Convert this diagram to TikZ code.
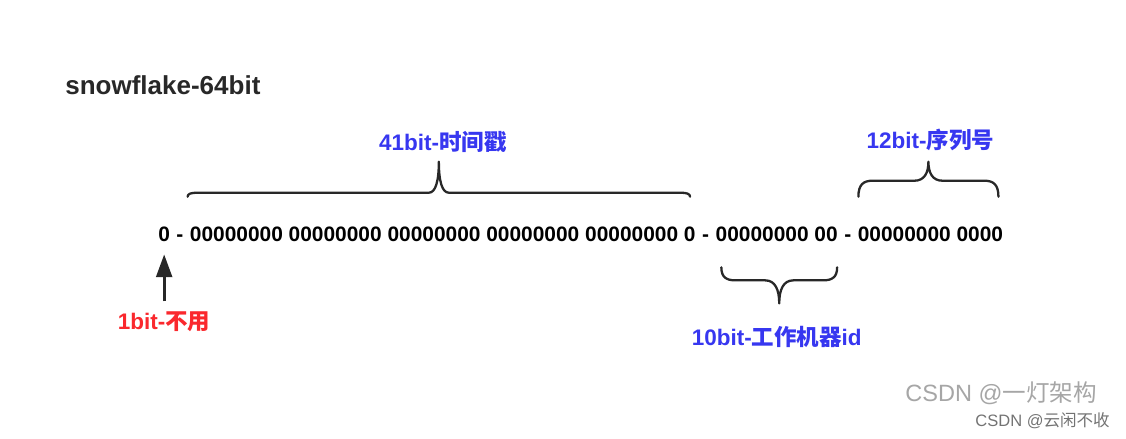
\documentclass[tikz,border=0pt]{standalone}
\usepackage{fontspec}
\setmainfont{Liberation Sans}
\newfontfamily\cjk{Noto Sans CJK SC}
\usetikzlibrary{positioning,calc,arrows.meta}
\definecolor{tagblue}{RGB}{55,55,240}
\definecolor{tagred}{RGB}{250,40,45}
\definecolor{ink}{RGB}{40,40,40}
\tikzset{
    bits/.style={
           inner sep=0pt,
           text height=8.5pt,
           text depth=0pt,
           font=\fontsize{11.9}{14}\selectfont\bfseries,
           },
    tag/.style={
           inner sep=0pt,
           font=\fontsize{12.8}{15}\selectfont\bfseries,
           },
    pointer/.style={
           -{Triangle[length=13pt,width=9pt]},
           line width=1.7pt, draw=ink,
           shorten >=7.4pt, shorten <=5.4pt,
           },
    % h = drop of the ends, w = curl width, t = tip length, s = -1 up / 1 down
    bitbrace/.style n args={4}{
           draw=ink, line width=1.3pt, line cap=round, line join=round,
           to path={
             .. controls ($(\tikztostart)+(0,#4*0.75*#1)$) and ($(\tikztostart)+(0.35*#2,#4*#1)$)
             .. ($(\tikztostart)+(#2,#4*#1)$)
             -- ($(\tikztostart)!0.5!(\tikztotarget)+(-#2,#4*#1)$)
             .. controls ($(\tikztostart)!0.5!(\tikztotarget)+(-0.3*#2,#4*#1)$)
                     and ($(\tikztostart)!0.5!(\tikztotarget)+(0,#4*#1+#4*0.4*#3)$)
             .. ($(\tikztostart)!0.5!(\tikztotarget)+(0,#4*#1+#4*#3)$)
             .. controls ($(\tikztostart)!0.5!(\tikztotarget)+(0,#4*#1+#4*0.4*#3)$)
                     and ($(\tikztostart)!0.5!(\tikztotarget)+(0.3*#2,#4*#1)$)
             .. ($(\tikztostart)!0.5!(\tikztotarget)+(#2,#4*#1)$)
             -- ($(\tikztotarget)+(-#2,#4*#1)$)
             .. controls ($(\tikztotarget)+(-0.35*#2,#4*#1)$) and ($(\tikztotarget)+(0,#4*0.75*#1)$)
             .. (\tikztotarget)
           },
           },
}

\begin{document}
\begin{tikzpicture}[x=0.02cm, y=-0.02cm, node distance=3.3pt]
    \useasboundingbox (0,0) rectangle (1126,439);

    % title
    \node[anchor=base west, text=ink, inner sep=0pt,
    font=\fontsize{14.8}{17}\selectfont\bfseries] (title) at (65,95) {snowflake-64bit};

    % the 64 bits
    \node[bits, anchor=base west] (sign) at (158,241) {0};
    \node[bits, right=of sign] (dash1) {-};
    \node[bits, right=of dash1] (stamp) {00000000 00000000 00000000 00000000 00000000 0};
    \node[bits, right=of stamp] (dash2) {-};
    \node[bits, right=of dash2] (worker) {00000000 00};
    \node[bits, right=of worker] (dash3) {-};
    \node[bits, right=of dash3] (seq) {00000000 0000};

    % braces
    \coordinate (stampL) at ($(stamp.north west)+(-2,-29)$);
    \coordinate (stampR) at ($(stamp.north east)+(-6,-29)$);
    \draw[bitbrace={4}{10}{31}{-1}] (stampL) to (stampR);

    \coordinate (seqL) at ($(seq.north west)+(1,-29)$);
    \coordinate (seqR) at ($(seq.north east)+(-5,-29)$);
    \draw[bitbrace={16}{14}{19}{-1}] (seqL) to (seqR);

    \coordinate (workerL) at ($(worker.south west)+(6,26)$);
    \coordinate (workerR) at ($(worker.south east)+(-1,26)$);
    \draw[bitbrace={13}{14}{23}{1}] (workerL) to (workerR);

    % labels
    \node[tag, text=tagblue] (stamptag) at ($(stamp.north)+(0,-84)$) {41bit-{\cjk 时间戳}};
    \node[tag, text=tagblue] (seqtag) at ($(seq.north)+(0,-86)$) {12bit-{\cjk 序列号}};
    \node[tag, text=tagblue] (workertag) at ($(worker.south)+(0,96)$) {10bit-{\cjk 工作机器}id};
    \node[tag, text=tagred] (signtag) at ($(sign.south)+(0,80)$) {1bit-{\cjk 不用}};

    \draw[pointer] (signtag) -- (sign);

    % watermarks
    \node[anchor=base east, text=black!35, inner sep=0pt,
    font=\fontsize{13.4}{16}\selectfont] (mark1) at (1097,401) {CSDN @{\cjk 一灯架构}};
    \node[anchor=base east, text=black!55, inner sep=0pt,
    font=\fontsize{9.4}{11}\selectfont] (mark2) at (1110,426) {CSDN @{\cjk 云闲不收}};
\end{tikzpicture}
\end{document}
